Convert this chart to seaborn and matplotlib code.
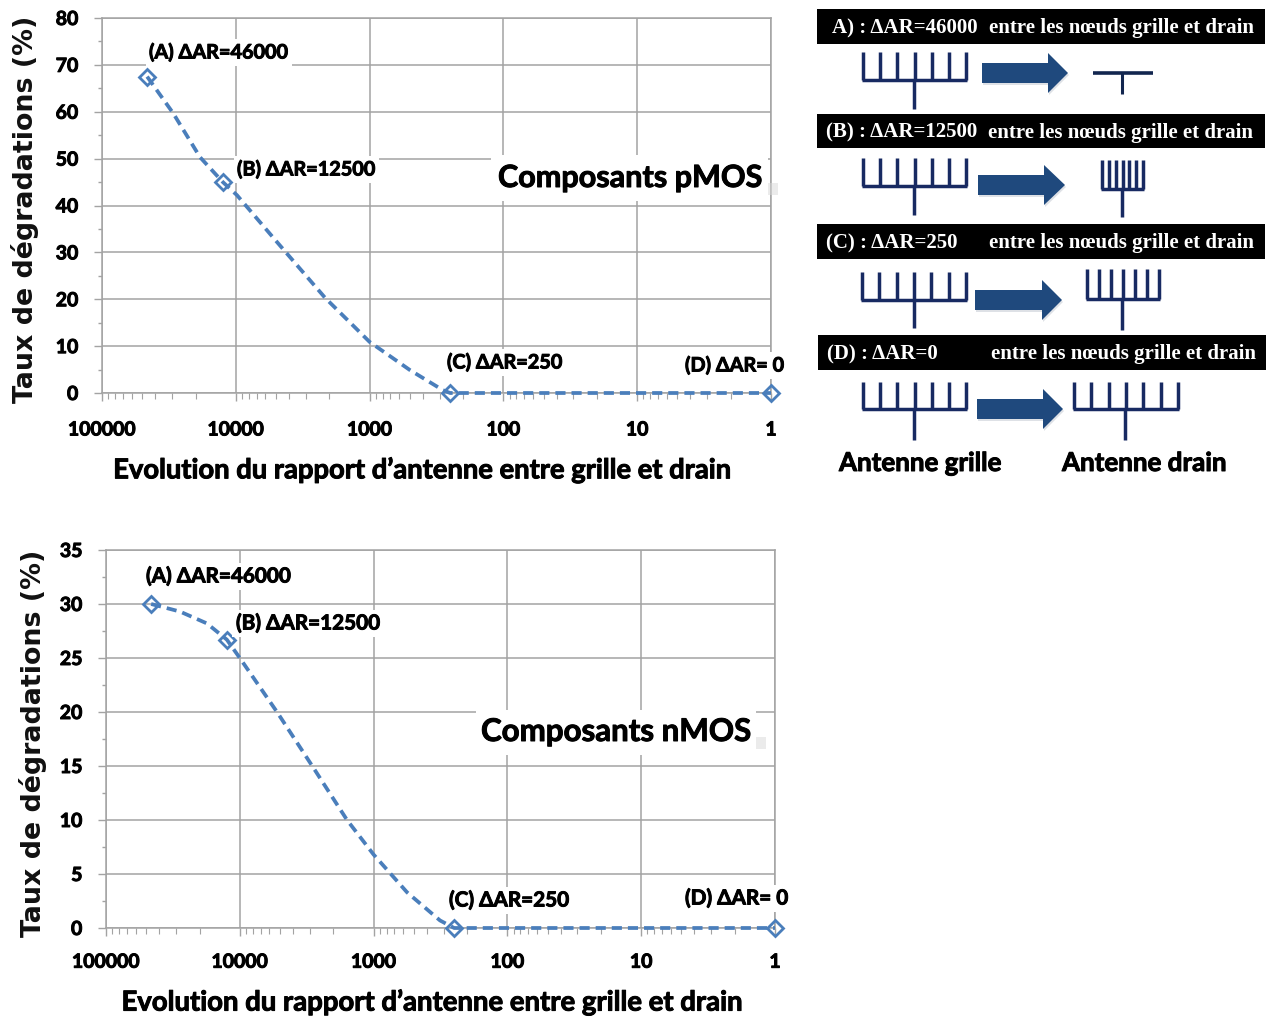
import pandas as pd
import matplotlib
matplotlib.use('Agg')
import matplotlib.pyplot as plt
import matplotlib.patheffects as pe
from matplotlib.patches import Polygon, Rectangle
from matplotlib.ticker import FixedLocator, LogLocator, NullFormatter, MultipleLocator
import seaborn as sns

W, H = 1266, 1018

# measured points (A, B, C, D)
point_ratio = [46000, 12500, 250, 1]
pmos_points = [67.5, 45, 0, 0]
nmos_points = [30, 26.7, 0, 0]

# dashed curves
pmos_curve_x = [46000, 29400, 18500, 12500, 9800, 4920, 2150, 1000, 500, 283, 250, 100, 10, 1]
pmos_curve_y = [67.5, 59.7, 50.3, 45, 42.2, 32.2, 20.3, 10.9, 4.9, 0.6, 0, 0, 0, 0]
nmos_curve_x = [46000, 28000, 17600, 12500, 10000, 5270, 2840, 1580, 1000, 562, 319, 250, 100, 10, 1]
nmos_curve_y = [30, 29.3, 28.2, 26.7, 25, 20, 14.9, 10, 6.8, 3.3, 0.7, 0, 0, 0, 0]

x_ticks = [100000, 10000, 1000, 100, 10, 1]
x_ticklabels = ['100000', '10000', '1000', '100', '10', '1']
y_title = 'Taux de dégradations (%)'
x_title = 'Evolution du rapport d’antenne entre grille et drain'

banner_left = ['A) : ΔAR=46000', '(B) : ΔAR=12500', '(C) : ΔAR=250', '(D) : ΔAR=0']
banner_right = 'entre les nœuds grille et drain'

LINE = '#4a7ebb'
GRID = '#a3a3a3'
NAVY = '#182a62'
ARROW = '#1f497d'
CALIBRI = ['Lato', 'DejaVu Sans']
# Lato bold comes out lighter than the original, thicken it a little
HEAVY = [pe.withStroke(linewidth=0.7, foreground='black')]

sns.set_theme(style='whitegrid')
plt.rcParams['font.family'] = CALIBRI
plt.rcParams['font.weight'] = 'bold'

fig = plt.figure(figsize=(W / 100, H / 100), dpi=100, facecolor='white')


def chart(box, curve_x, curve_y, points, ymax, ystep, ytitle_x, xtitle_y, xtitle_cx, xpad, xtitle_size):
    left, top, right, bottom = box
    ax = fig.add_axes([left / W, 1 - bottom / H, (right - left) / W, (bottom - top) / H])
    sns.lineplot(data=pd.DataFrame({'x': curve_x, 'y': curve_y}), x='x', y='y', ax=ax, sort=False,
                 errorbar=None, color=LINE, lw=2.7, linestyle=(0, (2.7, 1.6)), clip_on=False, zorder=3)
    sns.lineplot(data=pd.DataFrame({'x': point_ratio, 'y': points}), x='x', y='y', ax=ax, sort=False,
                 errorbar=None, linestyle='', marker='D', ms=8.5, mfc='none', mec=LINE, mew=2,
                 clip_on=False, zorder=4)
    ax.set_xscale('log')
    ax.set_xlim(100000, 1)
    ax.set_ylim(0, ymax)
    ax.xaxis.set_major_locator(FixedLocator(x_ticks))
    ax.set_xticklabels(x_ticklabels)
    ax.xaxis.set_minor_locator(LogLocator(base=10, subs=range(2, 10), numticks=12))
    ax.xaxis.set_minor_formatter(NullFormatter())
    ax.yaxis.set_major_locator(MultipleLocator(ystep))
    ax.yaxis.set_minor_locator(MultipleLocator(ystep / 2))
    ax.grid(True, which='major', color=GRID, lw=1.1)
    ax.grid(False, which='minor')
    ax.set_axisbelow(True)
    ax.set_facecolor('white')
    for s in ax.spines.values():
        s.set_color(GRID)
        s.set_linewidth(1.1)
    ax.tick_params(axis='x', which='major', bottom=True, length=6, width=1, color=GRID,
                   labelsize=14, pad=xpad, labelcolor='black')
    ax.tick_params(axis='x', which='minor', bottom=True, length=4, width=0.8, color=GRID)
    ax.tick_params(axis='y', which='major', left=True, length=6, width=1, color=GRID,
                   labelsize=14, pad=11, labelcolor='black')
    ax.tick_params(axis='y', which='minor', left=True, length=3, width=1, color=GRID)
    for t in ax.get_xticklabels() + ax.get_yticklabels():
        t.set_path_effects(HEAVY)
    ax.set_xlabel('')
    ax.set_ylabel('')
    fig.text(ytitle_x / W, 1 - ((top + bottom) / 2 + 4) / H, y_title, rotation=90, ha='center', va='center',
             family='DejaVu Sans', weight='bold', fontsize=19.4, color='#111111')
    fig.text(xtitle_cx / W, 1 - (xtitle_y + 2) / H, x_title, ha='center', va='center', fontsize=xtitle_size,
             color='black', path_effects=HEAVY)
    return ax


chart((102, 18, 771, 393), pmos_curve_x, pmos_curve_y, pmos_points, 80, 10, 25, 468, 422, 14.5, 19.7)
chart((106, 550, 775, 928), nmos_curve_x, nmos_curve_y, nmos_points, 35, 5, 33.5, 1000, 431, 12.5, 19.8)

# everything else sits on a pixel overlay
ov = fig.add_axes([0, 0, 1, 1], facecolor='none', zorder=10)
ov.set_xlim(0, W)
ov.set_ylim(H, 0)
ov.axis('off')


def label(x, y, s, size=14.3):
    ov.text(x, y + 1.5, s, ha='left', va='center', fontsize=size, color='black', path_effects=HEAVY,
            bbox=dict(facecolor='white', edgecolor='none', pad=2.5))


label(149, 51, '(A) ΔAR=46000')
label(237, 168, '(B) ΔAR=12500')
label(447, 361, '(C) ΔAR=250')
label(685, 364, '(D) ΔAR= 0')
label(146, 575, '(A) ΔAR=46000', 14.9)
label(236, 622, '(B) ΔAR=12500', 14.9)
label(449, 899, '(C) ΔAR=250', 14.9)
label(685, 897, '(D) ΔAR= 0', 14.9)

for (x0, y0, x1, y1, tx, ty, s, size) in [(491, 155, 768, 201, 498, 178, 'Composants pMOS', 22),
                                          (476, 710, 756, 755, 481, 732, 'Composants nMOS', 22.5)]:
    ov.add_patch(Rectangle((x1 - 2, y1 - 18), 12, 12, fc='#d8d8d8', ec='none', alpha=0.5))
    ov.add_patch(Rectangle((x0, y0), x1 - x0, y1 - y0, fc='white', ec='none'))
    ov.text(tx, ty, s, ha='left', va='center', fontsize=size, color='black', path_effects=HEAVY)

# banners
banner_boxes = [(817, 9, 35), (817, 114, 34), (817, 224, 35), (818, 335, 35)]
left_x = [832, 826, 826, 827]
right_x = [989, 988, 989, 991]
for (bx, by, bh), s, lx, rx in zip(banner_boxes, banner_left, left_x, right_x):
    ov.add_patch(Rectangle((bx, by), 448, bh, fc='black', ec='none'))
    cy = by + bh / 2 + 1.5
    ov.text(lx, cy, s, color='white', ha='left', va='center', fontsize=15,
            family=['Liberation Serif', 'DejaVu Serif'], weight='bold')
    ov.text(rx, cy, banner_right, color='white', ha='left', va='center', fontsize=15,
            family=['Liberation Serif', 'DejaVu Serif'], weight='bold')


def comb(x0, x1, top, bar, stem_x, stem_end, tines=7):
    step = (x1 - x0) / (tines - 1)
    for i in range(tines):
        ov.plot([x0 + i * step] * 2, [top, bar], color=NAVY, lw=2.5, solid_capstyle='butt')
    ov.plot([x0 - 1, x1 + 1], [bar, bar], color=NAVY, lw=2.5, solid_capstyle='butt')
    ov.plot([stem_x, stem_x], [bar, stem_end], color=NAVY, lw=2.5, solid_capstyle='butt')


comb(863, 966, 52, 80, 914, 109)
comb(863, 966, 158, 186, 914, 215)
comb(862, 966, 272, 300, 914, 328)
comb(863, 966, 382, 409, 914, 440)

ov.plot([1093, 1153], [73, 73], color='#12264f', lw=2.6, solid_capstyle='butt')
ov.plot([1122, 1122], [73, 94], color='#12264f', lw=2.2, solid_capstyle='butt')
comb(1102, 1143, 160, 189, 1122, 217)
comb(1087, 1159, 269, 299, 1122, 330)
comb(1074, 1178, 382, 409, 1125, 440)

for x0, x1, tip, cy in [(982, 1048, 1068, 73), (978, 1044, 1065, 185), (975, 1042, 1062, 300), (977, 1043, 1063, 409)]:
    pts = [(x0, cy - 10), (x1, cy - 10), (x1, cy - 20), (tip, cy), (x1, cy + 20), (x1, cy + 10), (x0, cy + 10)]
    ov.add_patch(Polygon([(a + 1, b + 2) for a, b in pts], fc='#c9ced6', ec='none', alpha=0.6))
    ov.add_patch(Polygon(pts, fc=ARROW, ec='none'))

ov.text(839, 463, 'Antenne grille', ha='left', va='center', fontsize=18.7, color='black', path_effects=HEAVY)
ov.text(1062, 463, 'Antenne drain', ha='left', va='center', fontsize=18.7, color='black', path_effects=HEAVY)

fig.savefig('out.png', dpi=100)
